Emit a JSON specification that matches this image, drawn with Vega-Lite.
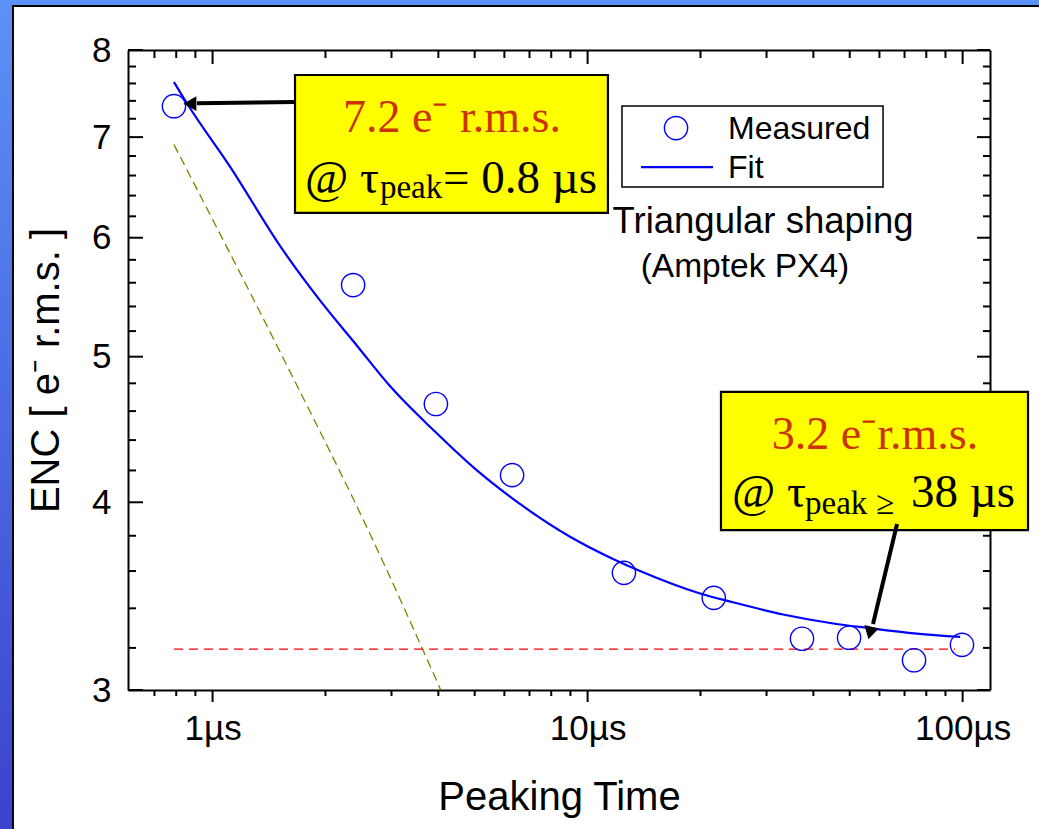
{
  "$schema": "https://vega.github.io/schema/vega-lite/v6.json",
  "width": 862,
  "height": 640,
  "autosize": {"type": "none"},
  "padding": {"left": 128, "top": 50, "right": 49, "bottom": 139},
  "background": "white",
  "config": {
    "view": {"stroke": null},
    "axis": {
      "grid": false,
      "ticks": false,
      "domainColor": "black",
      "domainWidth": 2,
      "labelFont": "Liberation Sans",
      "labelFontSize": 35,
      "labelColor": "black",
      "labelFlush": false,
      "labelOverlap": false,
      "titleFont": "Liberation Sans",
      "titleFontSize": 40,
      "titleFontWeight": "normal",
      "titleColor": "black"
    }
  },
  "resolve": {"axis": {"x": "independent", "y": "independent"}},
  "datasets": {
    "measured": [
      {"t": 0.789, "enc": 7.34}, {"t": 2.37, "enc": 5.58}, {"t": 3.94, "enc": 4.65},
      {"t": 6.29, "enc": 4.17}, {"t": 12.5, "enc": 3.59}, {"t": 21.7, "enc": 3.455},
      {"t": 37.3, "enc": 3.245}, {"t": 49.8, "enc": 3.25}, {"t": 74.2, "enc": 3.14},
      {"t": 99.6, "enc": 3.215}
    ],
    "fit": [
      {"t": 0.789, "enc": 7.617}, {"t": 0.855, "enc": 7.37}, {"t": 1.113, "enc": 6.69},
      {"t": 1.541, "enc": 5.886}, {"t": 1.934, "enc": 5.45}, {"t": 2.427, "enc": 5.085},
      {"t": 2.972, "enc": 4.78}, {"t": 3.917, "enc": 4.458}, {"t": 5.07, "enc": 4.2},
      {"t": 6.6, "enc": 3.99}, {"t": 8.98, "enc": 3.794}, {"t": 11.69, "enc": 3.667},
      {"t": 13.8, "enc": 3.6}, {"t": 19.95, "enc": 3.478}, {"t": 24.4, "enc": 3.432},
      {"t": 33.2, "enc": 3.368}, {"t": 45.2, "enc": 3.322}, {"t": 55.6, "enc": 3.3},
      {"t": 75.5, "enc": 3.271}, {"t": 98.5, "enc": 3.254}
    ],
    "olive": [
      {"t": 0.789, "enc": 6.92}, {"t": 1.6, "enc": 4.9}, {"t": 2.63, "enc": 3.81},
      {"t": 4.06, "enc": 3.0}
    ],
    "floor": [{"t": 0.789, "enc": 3.194}, {"t": 95.4, "enc": 3.194}],
    "xticks": [
      {"v": 1, "kind": "major"}, {"v": 10, "kind": "major"}, {"v": 100, "kind": "major"},
      {"v": 0.7, "kind": "minor"}, {"v": 0.8, "kind": "minor"}, {"v": 0.9, "kind": "minor"},
      {"v": 2, "kind": "minor"}, {"v": 3, "kind": "minor"}, {"v": 4, "kind": "minor"},
      {"v": 5, "kind": "minor"}, {"v": 6, "kind": "minor"}, {"v": 7, "kind": "minor"},
      {"v": 8, "kind": "minor"}, {"v": 9, "kind": "minor"}, {"v": 20, "kind": "minor"},
      {"v": 30, "kind": "minor"}, {"v": 40, "kind": "minor"}, {"v": 50, "kind": "minor"},
      {"v": 60, "kind": "minor"}, {"v": 70, "kind": "minor"}, {"v": 80, "kind": "minor"},
      {"v": 90, "kind": "minor"}
    ],
    "yticks": [
      {"v": 3, "kind": "major"}, {"v": 4, "kind": "major"}, {"v": 5, "kind": "major"},
      {"v": 6, "kind": "major"}, {"v": 7, "kind": "major"}, {"v": 8, "kind": "major"},
      {"v": 3.2, "kind": "minor"}, {"v": 3.4, "kind": "minor"}, {"v": 3.6, "kind": "minor"},
      {"v": 3.8, "kind": "minor"}, {"v": 4.2, "kind": "minor"}, {"v": 4.4, "kind": "minor"},
      {"v": 4.6, "kind": "minor"}, {"v": 4.8, "kind": "minor"}, {"v": 5.2, "kind": "minor"},
      {"v": 5.4, "kind": "minor"}, {"v": 5.6, "kind": "minor"}, {"v": 5.8, "kind": "minor"},
      {"v": 6.2, "kind": "minor"}, {"v": 6.4, "kind": "minor"}, {"v": 6.6, "kind": "minor"},
      {"v": 6.8, "kind": "minor"}, {"v": 7.2, "kind": "minor"}, {"v": 7.4, "kind": "minor"},
      {"v": 7.6, "kind": "minor"}, {"v": 7.8, "kind": "minor"}
    ],
    "boxes": [
      {"x": 1.659, "x2": 11.33, "y": 7.699, "y2": 6.232},
      {"x": 22.68, "x2": 149.4, "y": 4.737, "y2": 3.833}
    ],
    "redText": [
      {"x": 4.348, "y": 7.055, "label": "7.2 e⁻ r.m.s."},
      {"x": 58.4, "y": 4.341, "label": "3.2 e⁻r.m.s."}
    ],
    "mainText": [
      {"x": 1.764, "y": 6.426, "label": "@ τ"},
      {"x": 4.116, "y": 6.426, "label": "= 0.8 µs"},
      {"x": 24.27, "y": 3.972, "label": "@ τ"},
      {"x": 72.79, "y": 3.972, "label": "38 µs"}
    ],
    "subText": [
      {"x": 2.795, "y": 6.377, "label": "peak"},
      {"x": 37.99, "y": 3.929, "label": "peak"},
      {"x": 58.76, "y": 3.929, "label": "≥"}
    ],
    "arrows": [
      {"x": 1.669, "y": 7.386, "x2": 0.9088, "y2": 7.374},
      {"x": 66.86, "y": 3.869, "x2": 57.68, "y2": 3.319}
    ],
    "legendText": [
      {"x": 23.68, "y": 6.98, "label": "Measured"},
      {"x": 23.68, "y": 6.574, "label": "Fit"}
    ],
    "noteText": [
      {"x": 29.36, "y": 6.044, "label": "Triangular shaping", "size": "big"},
      {"x": 26.28, "y": 5.649, "label": "(Amptek PX4)", "size": "small"}
    ]
  },
  "layer": [
    {
      "data": {"values": [{}]},
      "mark": {"type": "rect", "fill": {"gradient": "linear", "x1": 0, "y1": 0, "x2": 0, "y2": 1, "stops": [{"offset": 0, "color": "#5c95fa"}, {"offset": 1, "color": "#3a3fcb"}]}},
      "encoding": {
        "x": {"datum": 0.25, "type": "quantitative", "scale": {"type": "log", "domain": [0.595, 118.3], "nice": false}, "axis": null},
        "x2": {"datum": 0.2918},
        "y": {"datum": 9.2, "type": "quantitative", "scale": {"type": "log", "domain": [3, 8], "nice": false}, "axis": null},
        "y2": {"datum": 2.3}
      }
    },
    {
      "data": {"values": [{}]},
      "mark": {"type": "rect", "fill": "#5b92f8"},
      "encoding": {
        "x": {"datum": 0.2918, "type": "quantitative", "scale": {"type": "log", "domain": [0.595, 118.3], "nice": false}, "axis": null},
        "x2": {"datum": 200},
        "y": {"datum": 9.2, "type": "quantitative", "scale": {"type": "log", "domain": [3, 8], "nice": false}, "axis": null},
        "y2": {"datum": 8.571}
      }
    },
    {
      "data": {"values": [{}]},
      "mark": {"type": "rect", "fill": "black"},
      "encoding": {
        "x": {"datum": 0.2918, "type": "quantitative", "scale": {"type": "log", "domain": [0.595, 118.3], "nice": false}, "axis": null},
        "x2": {"datum": 0.2954},
        "y": {"datum": 8.571, "type": "quantitative", "scale": {"type": "log", "domain": [3, 8], "nice": false}, "axis": null},
        "y2": {"datum": 2.3}
      }
    },
    {
      "data": {"values": [{}]},
      "mark": {"type": "rect", "fill": "black"},
      "encoding": {
        "x": {"datum": 0.2918, "type": "quantitative", "scale": {"type": "log", "domain": [0.595, 118.3], "nice": false}, "axis": null},
        "x2": {"datum": 200},
        "y": {"datum": 8.571, "type": "quantitative", "scale": {"type": "log", "domain": [3, 8], "nice": false}, "axis": null},
        "y2": {"datum": 8.545}
      }
    },
    {
      "data": {"name": "xticks"},
      "transform": [{"filter": "datum.kind === 'major'"}],
      "mark": {"type": "rule", "color": "black", "strokeWidth": 2},
      "encoding": {
        "x": {"field": "v", "type": "quantitative", "scale": {"type": "log", "domain": [0.595, 118.3], "nice": false}, "axis": null},
        "y": {"datum": 3, "type": "quantitative", "scale": {"type": "log", "domain": [3, 8], "nice": false}, "axis": null},
        "y2": {"datum": 2.9453}
      }
    },
    {
      "data": {"name": "xticks"},
      "transform": [{"filter": "datum.kind === 'minor'"}],
      "mark": {"type": "rule", "color": "black", "strokeWidth": 2},
      "encoding": {
        "x": {"field": "v", "type": "quantitative", "scale": {"type": "log", "domain": [0.595, 118.3], "nice": false}, "axis": null},
        "y": {"datum": 3, "type": "quantitative", "scale": {"type": "log", "domain": [3, 8], "nice": false}, "axis": null},
        "y2": {"datum": 2.9725}
      }
    },
    {
      "data": {"name": "xticks"},
      "transform": [{"filter": "datum.kind === 'major'"}],
      "mark": {"type": "rule", "color": "black", "strokeWidth": 2},
      "encoding": {
        "x": {"field": "v", "type": "quantitative", "scale": {"type": "log", "domain": [0.595, 118.3], "nice": false}, "axis": null},
        "y": {"datum": 8, "type": "quantitative", "scale": {"type": "log", "domain": [3, 8], "nice": false}, "axis": null},
        "y2": {"datum": 7.8302}
      }
    },
    {
      "data": {"name": "xticks"},
      "transform": [{"filter": "datum.kind === 'minor'"}],
      "mark": {"type": "rule", "color": "black", "strokeWidth": 2},
      "encoding": {
        "x": {"field": "v", "type": "quantitative", "scale": {"type": "log", "domain": [0.595, 118.3], "nice": false}, "axis": null},
        "y": {"datum": 8, "type": "quantitative", "scale": {"type": "log", "domain": [3, 8], "nice": false}, "axis": null},
        "y2": {"datum": 7.9025}
      }
    },
    {
      "data": {"name": "yticks"},
      "transform": [{"filter": "datum.kind === 'major'"}],
      "mark": {"type": "rule", "color": "black", "strokeWidth": 2},
      "encoding": {
        "x": {"datum": 0.595, "type": "quantitative", "scale": {"type": "log", "domain": [0.595, 118.3], "nice": false}, "axis": null},
        "x2": {"datum": 0.6524},
        "y": {"field": "v", "type": "quantitative", "scale": {"type": "log", "domain": [3, 8], "nice": false}, "axis": null}
      }
    },
    {
      "data": {"name": "yticks"},
      "transform": [{"filter": "datum.kind === 'minor'"}],
      "mark": {"type": "rule", "color": "black", "strokeWidth": 2},
      "encoding": {
        "x": {"datum": 0.595, "type": "quantitative", "scale": {"type": "log", "domain": [0.595, 118.3], "nice": false}, "axis": null},
        "x2": {"datum": 0.625},
        "y": {"field": "v", "type": "quantitative", "scale": {"type": "log", "domain": [3, 8], "nice": false}, "axis": null}
      }
    },
    {
      "data": {"name": "yticks"},
      "transform": [{"filter": "datum.kind === 'major'"}],
      "mark": {"type": "rule", "color": "black", "strokeWidth": 2},
      "encoding": {
        "x": {"datum": 118.3, "type": "quantitative", "scale": {"type": "log", "domain": [0.595, 118.3], "nice": false}, "axis": null},
        "x2": {"datum": 109.23},
        "y": {"field": "v", "type": "quantitative", "scale": {"type": "log", "domain": [3, 8], "nice": false}, "axis": null}
      }
    },
    {
      "data": {"name": "yticks"},
      "transform": [{"filter": "datum.kind === 'minor'"}],
      "mark": {"type": "rule", "color": "black", "strokeWidth": 2},
      "encoding": {
        "x": {"datum": 118.3, "type": "quantitative", "scale": {"type": "log", "domain": [0.595, 118.3], "nice": false}, "axis": null},
        "x2": {"datum": 113.33},
        "y": {"field": "v", "type": "quantitative", "scale": {"type": "log", "domain": [3, 8], "nice": false}, "axis": null}
      }
    },
    {
      "data": {"name": "olive"},
      "mark": {"type": "line", "color": "#808000", "strokeWidth": 1.3, "strokeDash": [9, 5], "interpolate": "monotone"},
      "encoding": {
        "x": {"field": "t", "type": "quantitative", "scale": {"type": "log", "domain": [0.595, 118.3], "nice": false},
              "axis": {"orient": "top", "values": [1, 10, 100], "labels": false, "title": null}},
        "y": {"field": "enc", "type": "quantitative", "scale": {"type": "log", "domain": [3, 8], "nice": false},
              "axis": {"orient": "right", "values": [3, 4, 5, 6, 7, 8], "labels": false, "title": null}}
      }
    },
    {
      "data": {"name": "floor"},
      "mark": {"type": "line", "color": "#ff0000", "strokeWidth": 1.3, "strokeDash": [9, 6]},
      "encoding": {
        "x": {"field": "t", "type": "quantitative", "scale": {"type": "log", "domain": [0.595, 118.3], "nice": false}, "axis": null},
        "y": {"field": "enc", "type": "quantitative", "scale": {"type": "log", "domain": [3, 8], "nice": false}, "axis": null}
      }
    },
    {
      "data": {"name": "fit"},
      "mark": {"type": "line", "color": "#0000ff", "strokeWidth": 2.2, "interpolate": "monotone"},
      "encoding": {
        "x": {"field": "t", "type": "quantitative", "scale": {"type": "log", "domain": [0.595, 118.3], "nice": false},
              "axis": {"orient": "bottom", "values": [1, 10, 100], "labelExpr": "datum.value + 'µs'", "labelPadding": 21, "title": "Peaking Time", "titlePadding": 31}},
        "y": {"field": "enc", "type": "quantitative", "scale": {"type": "log", "domain": [3, 8], "nice": false},
              "axis": {"orient": "left", "values": [3, 4, 5, 6, 7, 8], "labelPadding": 17, "title": "ENC  [ e⁻ r.m.s. ]", "titlePadding": 25}}
      }
    },
    {
      "data": {"name": "measured"},
      "mark": {"type": "point", "shape": "circle", "filled": false, "color": "#0000ff", "strokeWidth": 1.4, "size": 540, "opacity": 1},
      "encoding": {
        "x": {"field": "t", "type": "quantitative", "scale": {"type": "log", "domain": [0.595, 118.3], "nice": false}, "axis": null},
        "y": {"field": "enc", "type": "quantitative", "scale": {"type": "log", "domain": [3, 8], "nice": false}, "axis": null}
      }
    },
    {
      "data": {"values": [{"x": 12.35, "x2": 61.35, "y": 7.341, "y2": 6.485}]},
      "mark": {"type": "rect", "fill": "white", "stroke": "black", "strokeWidth": 1.5},
      "encoding": {
        "x": {"field": "x", "type": "quantitative", "scale": {"type": "log", "domain": [0.595, 118.3], "nice": false}, "axis": null},
        "x2": {"field": "x2"},
        "y": {"field": "y", "type": "quantitative", "scale": {"type": "log", "domain": [3, 8], "nice": false}, "axis": null},
        "y2": {"field": "y2"}
      }
    },
    {
      "data": {"values": [{"t": 17.21, "enc": 7.098}]},
      "mark": {"type": "point", "shape": "circle", "filled": false, "color": "#0000ff", "strokeWidth": 1.4, "size": 540, "opacity": 1},
      "encoding": {
        "x": {"field": "t", "type": "quantitative", "scale": {"type": "log", "domain": [0.595, 118.3], "nice": false}, "axis": null},
        "y": {"field": "enc", "type": "quantitative", "scale": {"type": "log", "domain": [3, 8], "nice": false}, "axis": null}
      }
    },
    {
      "data": {"values": [{"t": 13.88, "t2": 21.6, "enc": 6.686}]},
      "mark": {"type": "rule", "color": "#0000ff", "strokeWidth": 2.2},
      "encoding": {
        "x": {"field": "t", "type": "quantitative", "scale": {"type": "log", "domain": [0.595, 118.3], "nice": false}, "axis": null},
        "x2": {"field": "t2"},
        "y": {"field": "enc", "type": "quantitative", "scale": {"type": "log", "domain": [3, 8], "nice": false}, "axis": null}
      }
    },
    {
      "data": {"name": "legendText"},
      "mark": {"type": "text", "font": "Liberation Sans", "fontSize": 32, "align": "left", "baseline": "alphabetic", "color": "black"},
      "encoding": {
        "x": {"field": "x", "type": "quantitative", "scale": {"type": "log", "domain": [0.595, 118.3], "nice": false}, "axis": null},
        "y": {"field": "y", "type": "quantitative", "scale": {"type": "log", "domain": [3, 8], "nice": false}, "axis": null},
        "text": {"field": "label"}
      }
    },
    {
      "data": {"name": "noteText"},
      "mark": {"type": "text", "font": "Liberation Sans", "align": "center", "baseline": "alphabetic", "color": "black"},
      "encoding": {
        "x": {"field": "x", "type": "quantitative", "scale": {"type": "log", "domain": [0.595, 118.3], "nice": false}, "axis": null},
        "y": {"field": "y", "type": "quantitative", "scale": {"type": "log", "domain": [3, 8], "nice": false}, "axis": null},
        "text": {"field": "label"},
        "size": {"field": "size", "type": "nominal", "scale": {"domain": ["big", "small"], "range": [36.5, 33.5]}, "legend": null}
      }
    },
    {
      "data": {"name": "boxes"},
      "mark": {"type": "rect", "fill": "#ffff00", "stroke": "black", "strokeWidth": 2.2},
      "encoding": {
        "x": {"field": "x", "type": "quantitative", "scale": {"type": "log", "domain": [0.595, 118.3], "nice": false}, "axis": null},
        "x2": {"field": "x2"},
        "y": {"field": "y", "type": "quantitative", "scale": {"type": "log", "domain": [3, 8], "nice": false}, "axis": null},
        "y2": {"field": "y2"}
      }
    },
    {
      "data": {"name": "redText"},
      "mark": {"type": "text", "font": "Liberation Serif", "fontSize": 46, "align": "center", "baseline": "alphabetic", "color": "#cc3300"},
      "encoding": {
        "x": {"field": "x", "type": "quantitative", "scale": {"type": "log", "domain": [0.595, 118.3], "nice": false}, "axis": null},
        "y": {"field": "y", "type": "quantitative", "scale": {"type": "log", "domain": [3, 8], "nice": false}, "axis": null},
        "text": {"field": "label"}
      }
    },
    {
      "data": {"name": "mainText"},
      "mark": {"type": "text", "font": "Liberation Serif", "fontSize": 47, "align": "left", "baseline": "alphabetic", "color": "black"},
      "encoding": {
        "x": {"field": "x", "type": "quantitative", "scale": {"type": "log", "domain": [0.595, 118.3], "nice": false}, "axis": null},
        "y": {"field": "y", "type": "quantitative", "scale": {"type": "log", "domain": [3, 8], "nice": false}, "axis": null},
        "text": {"field": "label"}
      }
    },
    {
      "data": {"name": "subText"},
      "mark": {"type": "text", "font": "Liberation Serif", "fontSize": 33, "align": "left", "baseline": "alphabetic", "color": "black"},
      "encoding": {
        "x": {"field": "x", "type": "quantitative", "scale": {"type": "log", "domain": [0.595, 118.3], "nice": false}, "axis": null},
        "y": {"field": "y", "type": "quantitative", "scale": {"type": "log", "domain": [3, 8], "nice": false}, "axis": null},
        "text": {"field": "label"}
      }
    },
    {
      "data": {"name": "arrows"},
      "mark": {"type": "rule", "color": "black", "strokeWidth": 4},
      "encoding": {
        "x": {"field": "x", "type": "quantitative", "scale": {"type": "log", "domain": [0.595, 118.3], "nice": false}, "axis": null},
        "x2": {"field": "x2"},
        "y": {"field": "y", "type": "quantitative", "scale": {"type": "log", "domain": [3, 8], "nice": false}, "axis": null},
        "y2": {"field": "y2"}
      }
    },
    {
      "data": {"values": [{"x": 0.8703, "y": 7.368}]},
      "mark": {"type": "point", "shape": "triangle-left", "filled": true, "color": "black", "size": 220, "opacity": 1},
      "encoding": {
        "x": {"field": "x", "type": "quantitative", "scale": {"type": "log", "domain": [0.595, 118.3], "nice": false}, "axis": null},
        "y": {"field": "y", "type": "quantitative", "scale": {"type": "log", "domain": [3, 8], "nice": false}, "axis": null}
      }
    },
    {
      "data": {"values": [{"x": 56.63, "y": 3.274}]},
      "mark": {"type": "point", "shape": "triangle-down", "angle": 14, "filled": true, "color": "black", "size": 220, "opacity": 1},
      "encoding": {
        "x": {"field": "x", "type": "quantitative", "scale": {"type": "log", "domain": [0.595, 118.3], "nice": false}, "axis": null},
        "y": {"field": "y", "type": "quantitative", "scale": {"type": "log", "domain": [3, 8], "nice": false}, "axis": null}
      }
    }
  ]
}
